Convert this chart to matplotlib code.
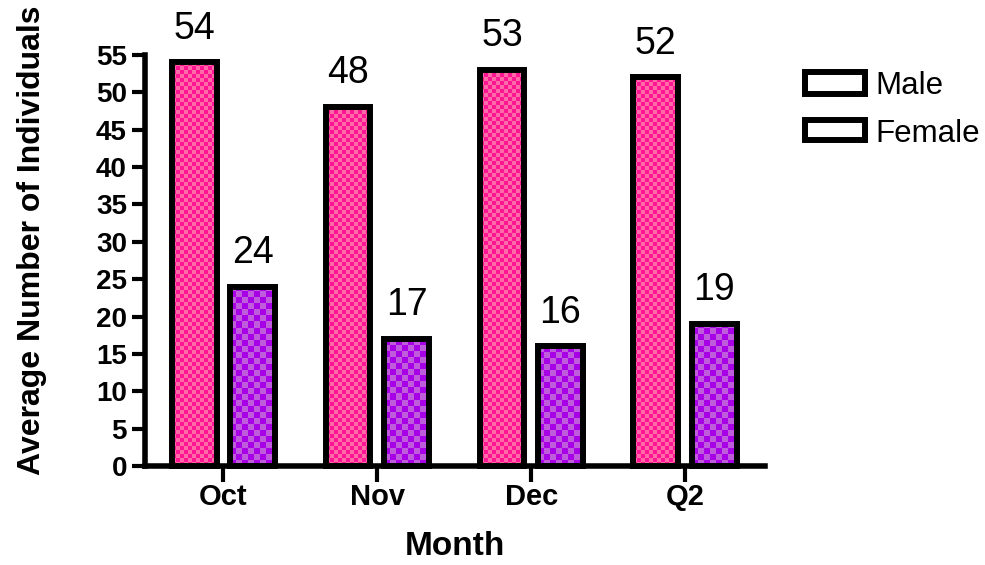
import numpy as np
import matplotlib
matplotlib.use("Agg")
import matplotlib.pyplot as plt
from matplotlib.patches import Rectangle

months = ["Oct", "Nov", "Dec", "Q2"]
male = [54, 48, 53, 52]
female = [24, 17, 16, 19]
series_names = ["Male", "Female"]
yticks = list(range(0, 56, 5))

plt.rcParams['font.family'] = ['Liberation Sans', 'DejaVu Sans']

W, H = 985, 565
fig = plt.figure(figsize=(W / 100, H / 100), dpi=100)
ax = fig.add_axes([145 / W, (H - 466) / H, (765 - 145) / W, (466 - 55) / H])

x = np.arange(len(months))
bw = 0.29
off = 0.19
edge_lw = 4.3

styles = [
    dict(dark="#FF1493", light="#FF6BA6", cell=4),
    dict(dark="#A800E6", light="#BE5CDC", cell=6),
]

ax.set_xlim(-0.51, 3.52)
ax.set_ylim(0, 55)

bar_sets = []
for i, vals in enumerate([male, female]):
    pos = x - off if i == 0 else x + off
    bars = ax.bar(pos, vals, bw, facecolor="none", edgecolor="black",
                  linewidth=edge_lw, zorder=3, clip_on=False,
                  label=series_names[i])
    bar_sets.append(bars)

fig.canvas.draw()
for i, bars in enumerate(bar_sets):
    st = styles[i]
    cmap = matplotlib.colors.ListedColormap([st["dark"], st["light"]])
    for b in bars:
        x0, y0 = b.get_x(), b.get_y()
        w, h = b.get_width(), b.get_height()
        (px0, py0) = ax.transData.transform((x0, y0))
        (px1, py1) = ax.transData.transform((x0 + w, y0 + h))
        nx = int(np.ceil((px1 - px0) / st["cell"])) + 1
        ny = int(np.ceil((py1 - py0) / st["cell"])) + 1
        arr = (np.add.outer(np.arange(ny), np.arange(nx)) % 2)
        ex1 = ax.transData.inverted().transform((px0 + nx * st["cell"], py0 + ny * st["cell"]))
        im = ax.imshow(arr, cmap=cmap, interpolation="nearest", aspect="auto",
                       extent=[x0, ex1[0], y0, ex1[1]], origin="lower",
                       zorder=2, clip_on=True)
        clip = Rectangle((x0, y0), w, h, transform=ax.transData)
        im.set_clip_path(clip)
        ax.text(b.get_x() + w / 2, h + 3.2, f"{int(h)}", ha="center", va="baseline",
                fontsize=27, zorder=4)

ax.set_xlim(-0.51, 3.52)
ax.set_ylim(0, 55)

for s in ["top", "right"]:
    ax.spines[s].set_visible(False)
for s in ["left", "bottom"]:
    ax.spines[s].set_linewidth(4)
ax.set_xticks(x)
ax.set_xticklabels(months, fontsize=21, fontweight="bold")
ax.set_yticks(yticks)
ax.set_yticklabels([str(t) for t in yticks], fontsize=20, fontweight="bold")
ax.tick_params(axis="y", length=9.4, width=3, pad=3.6)
ax.tick_params(axis="x", length=11.5, width=3, pad=0.5)
ax.set_xlabel("Month", fontsize=24, fontweight="bold")
ax.xaxis.set_label_coords(0.5, -0.158)
ax.set_ylabel("Average Number of Individuals", fontsize=23, fontweight="bold")
ax.yaxis.set_label_coords(-0.158, 0.55)

# legend drawn manually in figure pixel coordinates
leg_rows = [(72, 94, 83), (120, 140, 130)]
for name, (top, bot, cy) in zip(series_names, leg_rows):
    fig.patches.append(Rectangle((805 / W, 1 - bot / H), 60 / W, (bot - top) / H,
                                 transform=fig.transFigure, facecolor="white",
                                 edgecolor="black", linewidth=4.3, figure=fig))
    fig.text(875 / W, 1 - cy / H, name, fontsize=22.5, ha="left", va="center_baseline")

fig.savefig("out.png", dpi=100)
